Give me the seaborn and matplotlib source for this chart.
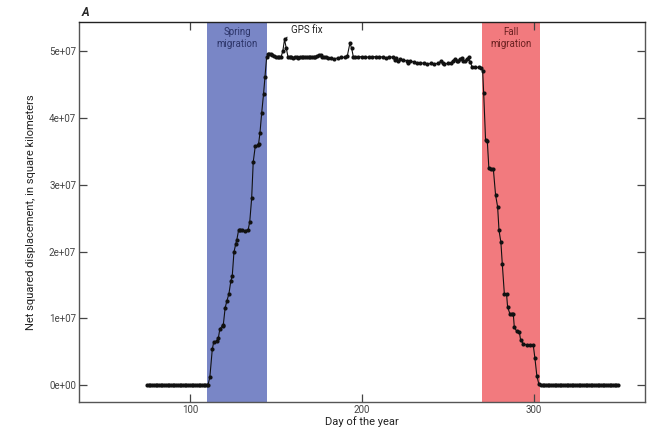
import numpy as np
import pandas as pd
import seaborn as sns
import matplotlib
matplotlib.use("Agg")
import matplotlib.pyplot as plt

# values (net squared displacement, x 1e7 km^2)
days_winter = list(range(75, 111))
nsd_winter = [0.0] * len(days_winter)

days_spring = [110.5, 111.6, 113.0, 113.8, 115.5, 116.5, 117.4, 119.0, 119.4, 120.5,
               121.5, 122.7, 123.8, 124.6, 125.6, 126.6, 127.3, 128.3, 129.0, 130.5,
               132.0, 133.9, 134.8, 135.9, 136.8, 138.0, 139.3, 139.9, 140.7, 141.7,
               142.8, 143.6, 144.6, 145.5]
nsd_spring = [0.0, 0.12, 0.535, 0.64, 0.66, 0.70, 0.84, 0.89, 0.90, 1.16,
              1.26, 1.37, 1.56, 1.63, 1.99, 2.11, 2.18, 2.32, 2.33, 2.32,
              2.31, 2.33, 2.45, 2.80, 3.34, 3.58, 3.59, 3.61, 3.77, 4.07,
              4.36, 4.61, 4.91, 4.96]

days_summer = [146, 147, 148, 149, 150, 151, 152, 153, 154, 155, 156, 157, 158, 159, 160,
               161, 162, 163, 164, 165, 166, 167, 168, 169, 170, 171, 172, 173, 174, 175,
               176, 177, 178, 179, 180, 182, 184, 186, 188, 190, 191.5, 193, 194, 195, 196,
               198, 200, 202, 204, 206, 208, 210, 212, 214, 216, 218, 219, 220, 221, 222,
               224, 226, 227, 228, 230, 232, 234, 236, 238, 240, 242, 244, 246, 247, 248,
               250, 252, 253, 254, 255, 256, 257, 258, 259, 260, 261, 262, 263, 264, 266,
               268, 269.5]
nsd_summer = [4.96, 4.96, 4.95, 4.93, 4.92, 4.91, 4.91, 4.92, 5.00, 5.18, 5.05, 4.92, 4.91, 4.91, 4.90,
              4.91, 4.91, 4.90, 4.91, 4.91, 4.92, 4.91, 4.91, 4.92, 4.91, 4.91, 4.92, 4.92, 4.93, 4.94,
              4.94, 4.92, 4.91, 4.91, 4.90, 4.90, 4.89, 4.90, 4.91, 4.91, 4.93, 5.12, 5.05, 4.92, 4.92,
              4.92, 4.92, 4.92, 4.91, 4.92, 4.92, 4.91, 4.92, 4.90, 4.92, 4.91, 4.87, 4.90, 4.85, 4.88,
              4.87, 4.86, 4.83, 4.86, 4.84, 4.82, 4.83, 4.82, 4.81, 4.82, 4.81, 4.82, 4.85, 4.82, 4.81,
              4.82, 4.83, 4.86, 4.89, 4.86, 4.85, 4.88, 4.90, 4.86, 4.85, 4.89, 4.91, 4.84, 4.77, 4.76,
              4.76, 4.75]

days_fall = [270.2, 270.8, 271.9, 272.9, 273.8, 275.0, 276.4, 277.7, 278.9, 279.7,
             280.8, 281.6, 282.8, 284.1, 284.7, 286.0, 287.0, 288.0, 288.6, 289.9,
             291.5, 292.3, 293.8, 295.7, 297.5, 299.6, 300.6, 301.7, 302.9]
nsd_fall = [4.71, 4.37, 3.67, 3.66, 3.25, 3.24, 3.24, 2.85, 2.67, 2.32,
            2.14, 1.82, 1.37, 1.36, 1.17, 1.07, 1.07, 1.07, 0.865, 0.81,
            0.80, 0.67, 0.62, 0.60, 0.60, 0.60, 0.40, 0.14, 0.01]

days_autumn = list(range(304, 350))
nsd_autumn = [0.0] * len(days_autumn)

spring_window = (110, 145)
fall_window = (270, 303.5)

df = pd.DataFrame({
    "day": days_winter + days_spring + days_summer + days_fall + days_autumn,
    "nsd": np.array(nsd_winter + nsd_spring + nsd_summer + nsd_fall + nsd_autumn) * 1e7,
})

sns.set_style("ticks")
plt.rcParams["font.family"] = ["Roboto", "DejaVu Sans"]

fig = plt.figure(figsize=(6.56, 4.28), dpi=100)
ax = fig.add_axes([0.1204, 0.0607, 0.8626, 0.8879])

ax.axvspan(*spring_window, color="#7986c6", lw=0, zorder=0)
ax.axvspan(*fall_window, color="#f27a7e", lw=0, zorder=0)

sns.lineplot(data=df, x="day", y="nsd", ax=ax, color="#111111", lw=0.8,
             marker="o", markersize=3.0, markeredgewidth=0, sort=False,
             estimator=None)

ax.set_xlim(35.5, 364.5)
ax.set_ylim(-2.55e6, 5.44e7)
ax.set_xticks([100, 200, 300])
ax.set_yticks([0, 1e7, 2e7, 3e7, 4e7, 5e7])
ax.set_yticklabels(["0e+00", "1e+07", "2e+07", "3e+07", "4e+07", "5e+07"])
ax.tick_params(direction="in", length=6, width=0.9, color="#444444", pad=2,
               labelsize=7, labelcolor="#444444", top=True, right=True)
for s in ax.spines.values():
    s.set_color("#555555")
    s.set_linewidth(1.0)
ax.spines["top"].set_color("#222222")

ax.set_xlabel("Day of the year", fontsize=8, color="#222222", labelpad=1)
ax.set_ylabel("Net squared displacement, in square kilometers", fontsize=8,
              color="#222222", labelpad=9)

ax.text(0.005, 1.008, "A", transform=ax.transAxes, ha="left", va="bottom",
        fontsize=8.5, fontweight="bold", fontstyle="italic")

ax.text(sum(spring_window) / 2, 5.37e7, "Spring\nmigration", ha="center", va="top",
        fontsize=7, color="#2c3468", linespacing=1.3)
ax.text(sum(fall_window) / 2, 5.37e7, "Fall\nmigration", ha="center", va="top",
        fontsize=7, color="#6a2020", linespacing=1.3)

ax.annotate("GPS fix", xy=(155.3, 5.2e7), xytext=(158.5, 5.32e7), ha="left", va="center",
            fontsize=7, color="#222222",
            arrowprops=dict(arrowstyle="-", color="#222222", lw=0.7, shrinkA=0, shrinkB=1))

fig.savefig("out.png", dpi=100)
